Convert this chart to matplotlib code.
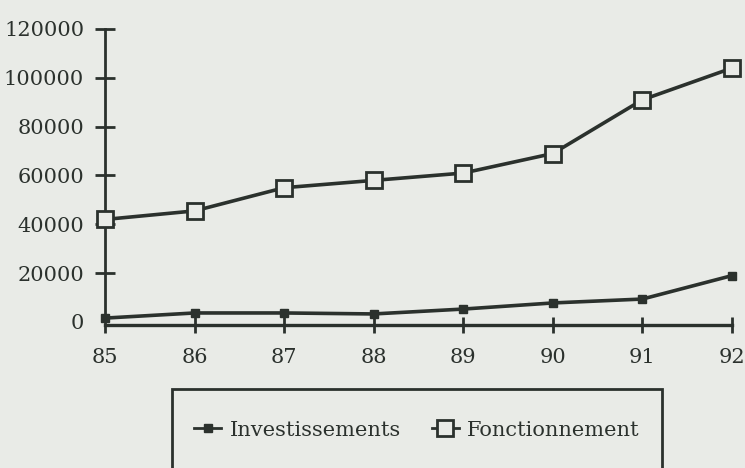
import matplotlib
matplotlib.use("Agg")
import matplotlib.pyplot as plt
from matplotlib.patches import Rectangle

years = ["85", "86", "87", "88", "89", "90", "91", "92"]
investissements = [1600, 3700, 3700, 3300, 5300, 7800, 9400, 19000]
fonctionnement = [42000, 45500, 55000, 58000, 61000, 69000, 91000, 104000]
yticks = [20000, 40000, 60000, 80000, 100000, 120000]

bg = "#e9ebe7"
ink = "#2b312d"
plt.rcParams["font.family"] = ["DejaVu Serif"]

fig = plt.figure(figsize=(7.45, 4.68), dpi=100, facecolor=bg)
ax = fig.add_axes([105/745, (468-325)/468, (732-105)/745, 296/468])
ax.set_facecolor(bg)

x = list(range(len(years)))
l1, = ax.plot(x, investissements, color=ink, lw=2.6, marker="s", ms=6,
              mfc=ink, mec=ink, clip_on=False, zorder=3)
l2, = ax.plot(x, fonctionnement, color=ink, lw=2.6, marker="s", ms=11,
              mfc=bg, mec=ink, mew=2, clip_on=False, zorder=3)

ax.set_xlim(0, len(years) - 1)
ax.set_ylim(-1230, 120000)
ax.set_xticks(x)
ax.set_xticklabels(years)
ax.set_yticks([0] + yticks)
ax.set_yticklabels(["0"] + [str(v) for v in yticks])

for s in ["top", "right"]:
    ax.spines[s].set_visible(False)
ax.spines["left"].set_bounds(3000, 120000)
ax.spines["left"].set_linewidth(2)
ax.spines["bottom"].set_linewidth(2.4)
ax.spines["left"].set_color(ink)
ax.spines["bottom"].set_color(ink)

ax.tick_params(axis="y", direction="inout", length=14, width=2, color=ink,
               labelsize=15, labelcolor=ink, pad=8)
ax.tick_params(axis="x", direction="inout", length=11, width=2, color=ink,
               labelsize=15, labelcolor=ink, pad=11)
ax.yaxis.get_major_ticks()[0].tick1line.set_visible(False)

fig.patches.append(Rectangle((172/745, -0.05), (662-172)/745, (468-389)/468 + 0.05,
                             transform=fig.transFigure, fill=False, ec=ink, lw=2))
leg = fig.legend([l1, l2], ["Investissements", "Fonctionnement"], loc="center",
                 bbox_to_anchor=(417/745, 1 - 430/468), ncol=2, frameon=False,
                 fontsize=15, handlelength=1.3, columnspacing=1.5, handletextpad=0.4,
                 labelcolor=ink)
for h in leg.legend_handles:
    h.set_linewidth(2)
fig.savefig("out.png", dpi=100, facecolor=bg)
